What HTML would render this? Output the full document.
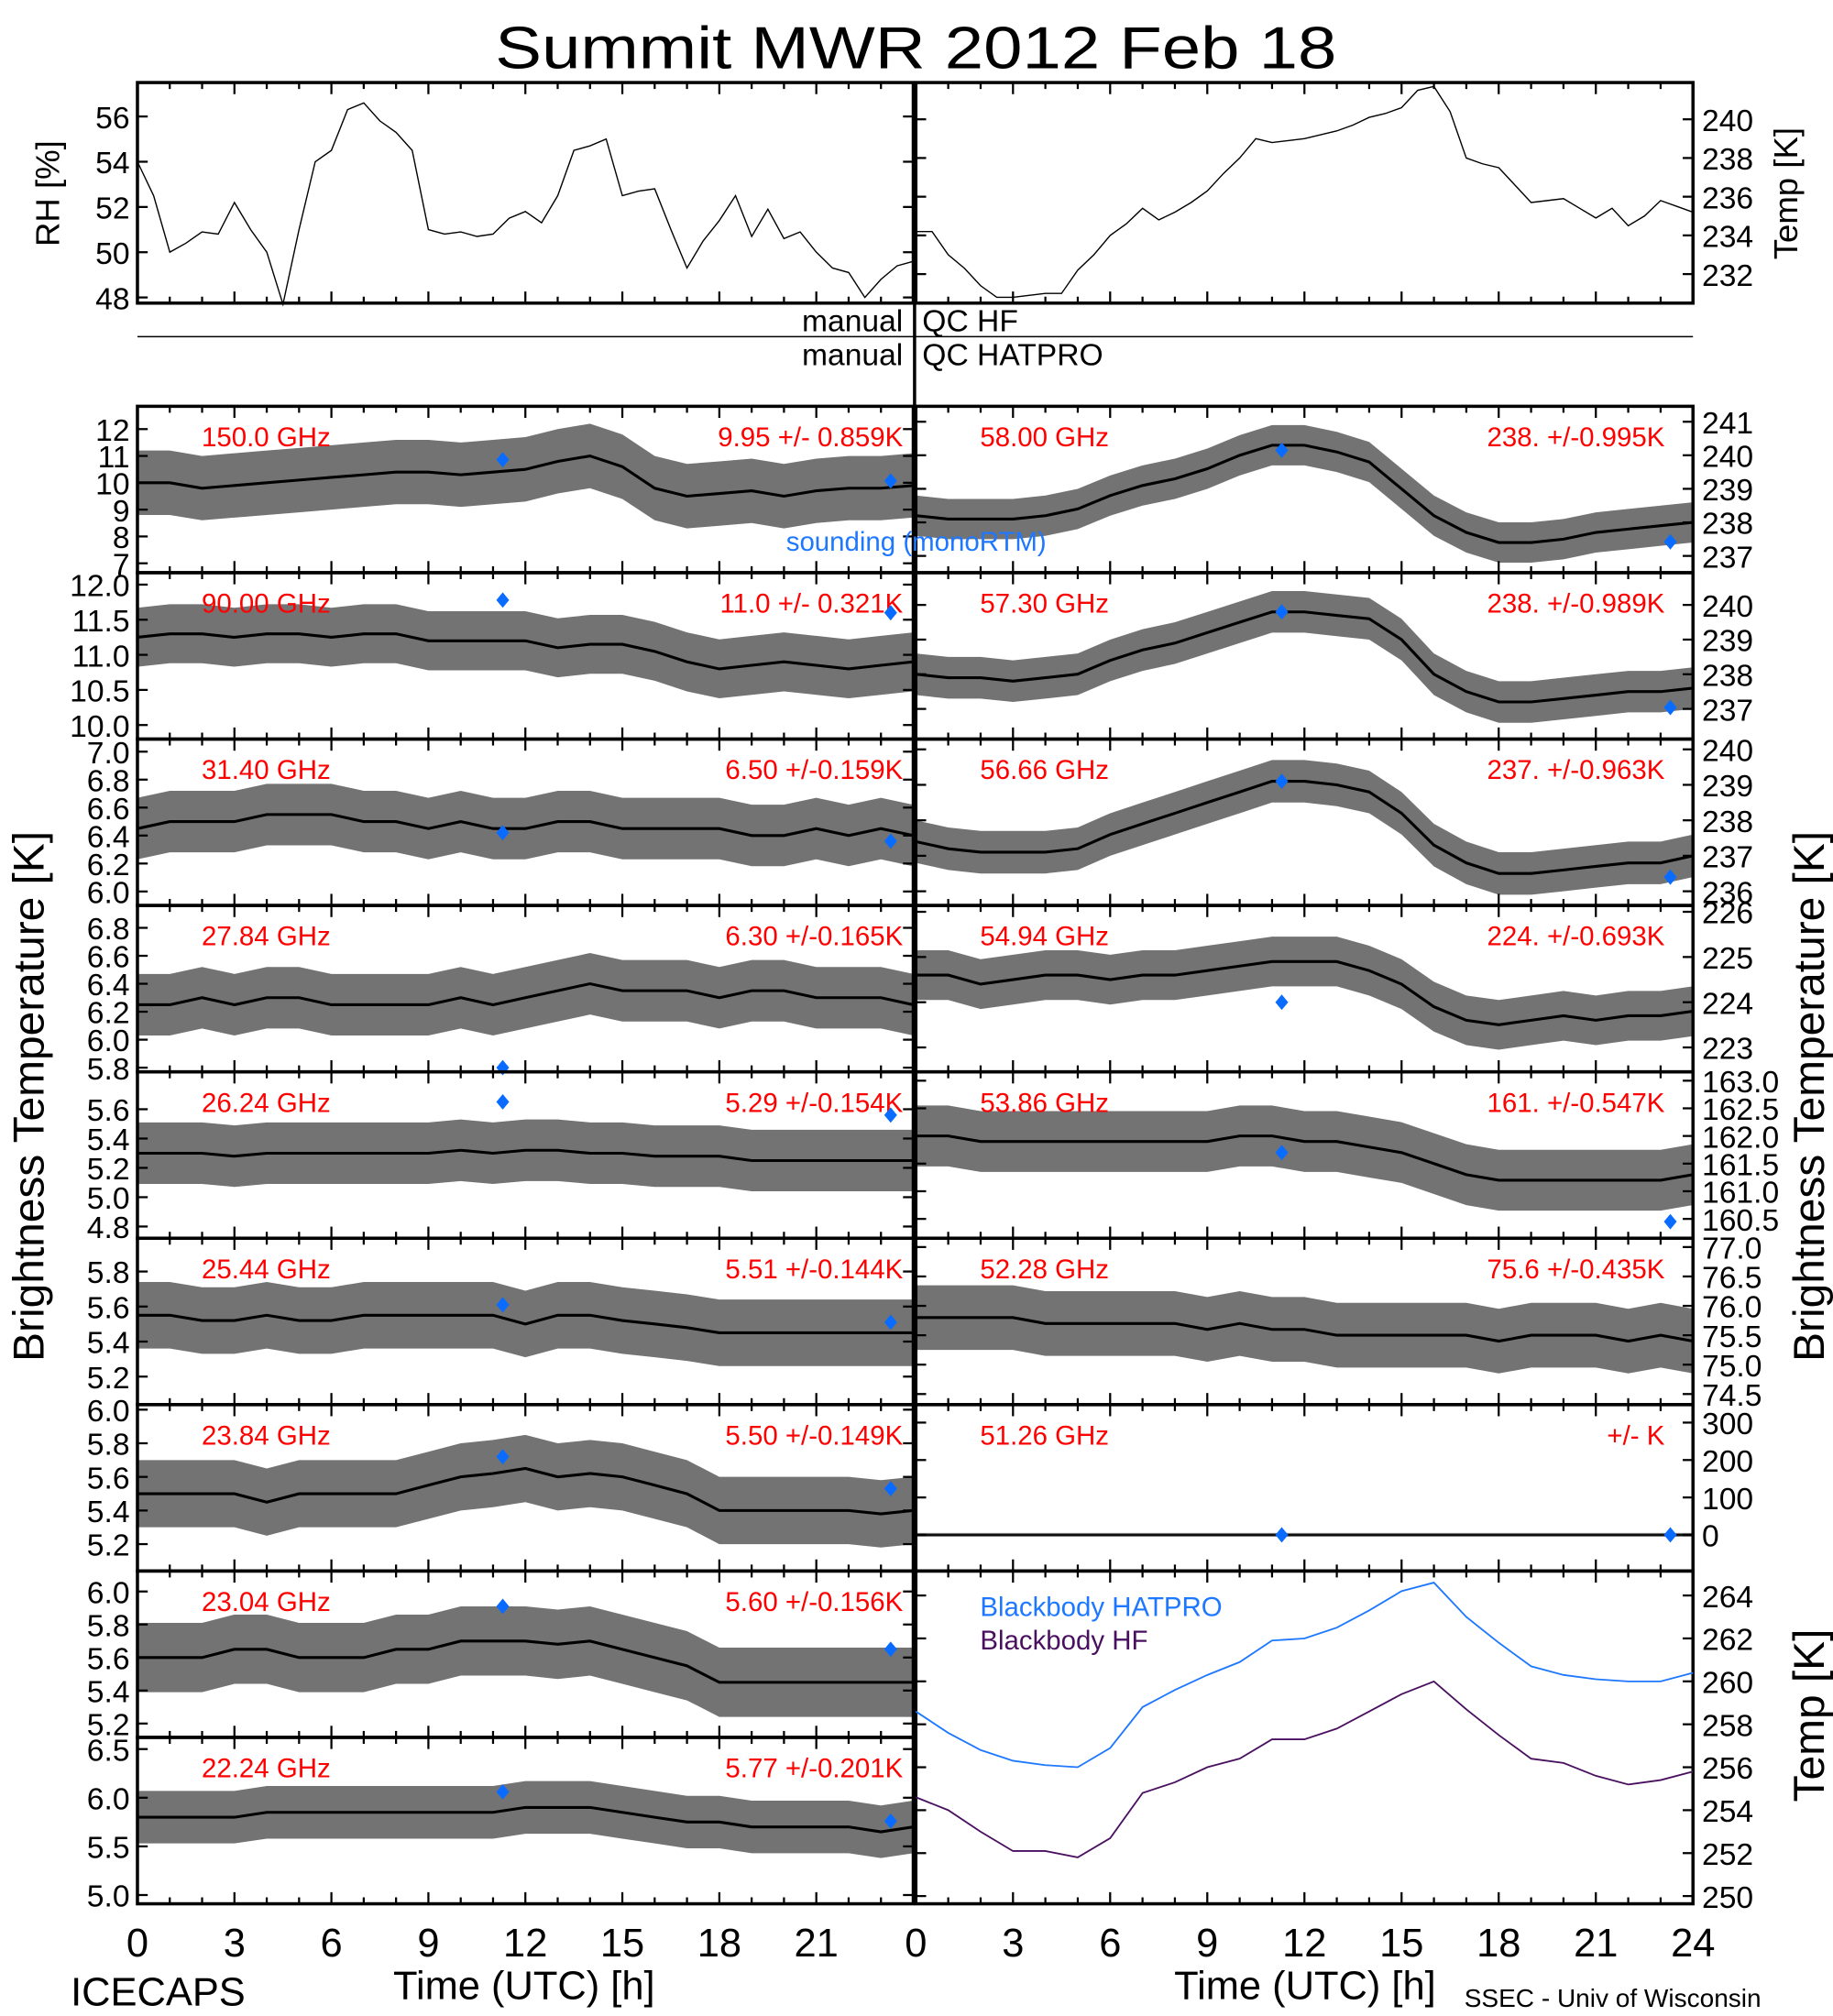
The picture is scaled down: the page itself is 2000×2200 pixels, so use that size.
<!DOCTYPE html>
<html><head><meta charset="utf-8"><title>Summit MWR 2012 Feb 18</title>
<style>
html,body{margin:0;padding:0;background:#fff;}
svg{display:block;}
text{font-family:"Liberation Sans",sans-serif;}
</style></head>
<body>
<svg id="chart" xmlns="http://www.w3.org/2000/svg" width="2000" height="2200" viewBox="0 0 1427 1563" preserveAspectRatio="none">
<rect x="0" y="0" width="1427" height="1563" fill="#fff"/>
<text x="713" y="53" font-size="46" text-anchor="middle" textLength="655" lengthAdjust="spacingAndGlyphs">Summit MWR 2012 Feb 18</text>
<g id="plots"></g>
</svg>
<script>
// ---------- data ----------
const hours = [0,1,2,3,4,5,6,7,8,9,10,11,12,13,14,15,16,17,18,19,20,21,22,23,24];
const halfHours = [0,0.5,1,1.5,2,2.5,3,3.5,4,4.5,5,5.5,6,6.5,7,7.5,8,8.5,9,9.5,10,10.5,11,11.5,12,12.5,13,13.5,14,14.5,15,15.5,16,16.5,17,17.5,18,18.5,19,19.5,20,20.5,21,21.5,22,22.5,23,23.5,24];
const rhValues = [54,52.5,50,50.4,50.9,50.8,52.2,51,50,47.7,51,54,54.5,56.3,56.6,55.8,55.3,54.5,51,50.8,50.9,50.7,50.8,51.5,51.8,51.3,52.5,54.5,54.7,55,52.5,52.7,52.8,51,49.3,50.5,51.4,52.5,50.7,51.9,50.6,50.9,50,49.3,49.1,48,48.8,49.4,49.6];
const tempValues = [234.2,234.2,233,232.3,231.4,230.8,230.8,230.9,231,231,232.2,233,234,234.6,235.4,234.8,235.2,235.7,236.3,237.2,238,239,238.8,238.9,239,239.2,239.4,239.7,240.1,240.3,240.6,241.5,241.7,240.4,238,237.7,237.5,236.6,235.7,235.8,235.9,235.4,234.9,235.4,234.5,235,235.8,235.5,235.2];
const bbHatpro = [258.6,257.6,256.8,256.3,256.1,256.0,256.9,258.8,259.6,260.3,260.9,261.9,262,262.5,263.3,264.2,264.6,263,261.8,260.7,260.3,260.1,260,260,260.4];
const bbHF = [254.6,254,253,252.1,252.1,251.8,252.7,254.8,255.3,256,256.4,257.3,257.3,257.8,258.6,259.4,260,258.7,257.5,256.4,256.2,255.6,255.2,255.4,255.8];
const ch150 = [10,10,9.8,9.9,10,10.1,10.2,10.3,10.4,10.4,10.3,10.4,10.5,10.8,11,10.6,9.8,9.5,9.6,9.7,9.5,9.7,9.8,9.8,9.9];
const ch90 = [11.25,11.3,11.3,11.25,11.3,11.3,11.25,11.3,11.3,11.2,11.2,11.2,11.2,11.1,11.15,11.15,11.05,10.9,10.8,10.85,10.9,10.85,10.8,10.85,10.9];
const ch3140 = [6.45,6.5,6.5,6.5,6.55,6.55,6.55,6.5,6.5,6.45,6.5,6.45,6.45,6.5,6.5,6.45,6.45,6.45,6.45,6.4,6.4,6.45,6.4,6.45,6.4];
const ch2784 = [6.25,6.25,6.3,6.25,6.3,6.3,6.25,6.25,6.25,6.25,6.3,6.25,6.3,6.35,6.4,6.35,6.35,6.35,6.3,6.35,6.35,6.3,6.3,6.3,6.25];
const ch2624 = [5.3,5.3,5.3,5.28,5.3,5.3,5.3,5.3,5.3,5.3,5.32,5.3,5.32,5.32,5.3,5.3,5.28,5.28,5.28,5.25,5.25,5.25,5.25,5.25,5.25];
const ch2544 = [5.55,5.55,5.52,5.52,5.55,5.52,5.52,5.55,5.55,5.55,5.55,5.55,5.5,5.55,5.55,5.52,5.5,5.48,5.45,5.45,5.45,5.45,5.45,5.45,5.45];
const ch2384 = [5.5,5.5,5.5,5.5,5.45,5.5,5.5,5.5,5.5,5.55,5.6,5.62,5.65,5.6,5.62,5.6,5.55,5.5,5.4,5.4,5.4,5.4,5.4,5.38,5.4];
const ch2304 = [5.6,5.6,5.6,5.65,5.65,5.6,5.6,5.6,5.65,5.65,5.7,5.7,5.7,5.68,5.7,5.65,5.6,5.55,5.45,5.45,5.45,5.45,5.45,5.45,5.45];
const ch2224 = [5.8,5.8,5.8,5.8,5.85,5.85,5.85,5.85,5.85,5.85,5.85,5.85,5.9,5.9,5.9,5.85,5.8,5.75,5.75,5.7,5.7,5.7,5.7,5.65,5.7];
const ch5800 = [238.2,238.1,238.1,238.1,238.2,238.4,238.8,239.1,239.3,239.6,240,240.3,240.3,240.1,239.8,239,238.2,237.7,237.4,237.4,237.5,237.7,237.8,237.9,238];
const ch5730 = [238,237.9,237.9,237.8,237.9,238,238.4,238.7,238.9,239.2,239.5,239.8,239.8,239.7,239.6,239,238,237.5,237.2,237.2,237.3,237.4,237.5,237.5,237.6];
const ch5666 = [237.4,237.2,237.1,237.1,237.1,237.2,237.6,237.9,238.2,238.5,238.8,239.1,239.1,239,238.8,238.2,237.3,236.8,236.5,236.5,236.6,236.7,236.8,236.8,237];
const ch5494 = [224.6,224.6,224.4,224.5,224.6,224.6,224.5,224.6,224.6,224.7,224.8,224.9,224.9,224.9,224.7,224.4,223.9,223.6,223.5,223.6,223.7,223.6,223.7,223.7,223.8];
const ch5386 = [162.0,162.0,161.9,161.9,161.9,161.9,161.9,161.9,161.9,161.9,162.0,162.0,161.9,161.9,161.8,161.7,161.5,161.3,161.2,161.2,161.2,161.2,161.2,161.2,161.3];
const ch5228 = [75.8,75.8,75.8,75.8,75.7,75.7,75.7,75.7,75.7,75.6,75.7,75.6,75.6,75.5,75.5,75.5,75.5,75.5,75.4,75.5,75.5,75.5,75.4,75.5,75.4];
const ch5126 = [0,0,0,0,0,0,0,0,0,0,0,0,0,0,0,0,0,0,0,0,0,0,0,0,0];
const soundTimes = [11.3, 23.3];

// ---------- layout ----------
const SVGNS = "http://www.w3.org/2000/svg";
const root = document.getElementById('plots');
const LX0 = 107, LX1 = 711, RX0 = 713, RX1 = 1318;
function mk(tag, attrs, parent) {
  const e = document.createElementNS(SVGNS, tag);
  for (const k in attrs) e.setAttribute(k, attrs[k]);
  (parent || root).appendChild(e);
  return e;
}
function xScale(h, x0, x1) { return x0 + (x1 - x0) * h / 24; }
function yScale(v, y0, y1, lo, hi) { return y1 - (v - lo) / (hi - lo) * (y1 - y0); }

function drawFrame(x0, x1, y0, y1, name) {
  const g = mk('g', {});
  
  
  mk('rect', {x: x0, y: y0, width: x1 - x0, height: y1 - y0, fill: 'none', stroke: '#000', 'stroke-width': 2.5}, g);
  for (let h = 0; h <= 24; h++) {
    const x = xScale(h, x0, x1);
    const L = (h % 3 === 0) ? 9 : 5;
    mk('line', {x1: x, x2: x, y1: y0, y2: y0 + L, stroke: '#000', 'stroke-width': 1.6}, g);
    mk('line', {x1: x, x2: x, y1: y1, y2: y1 - L, stroke: '#000', 'stroke-width': 1.6}, g);
  }
  return g;
}
function drawYTicks(g, x0, x1, y0, y1, lo, hi, ticks, side, fmt) {
  ticks.forEach(t => {
    const y = yScale(t, y0, y1, lo, hi);
    mk('line', {x1: x0, x2: x0 + 8, y1: y, y2: y, stroke: '#000', 'stroke-width': 1.6}, g);
    mk('line', {x1: x1, x2: x1 - 8, y1: y, y2: y, stroke: '#000', 'stroke-width': 1.6}, g);
    const tx = side === 'left' ? x0 - 6 : x1 + 7;
    const lbl = mk('text', {x: tx, y: y + 9, 'font-size': 24, 'text-anchor': side === 'left' ? 'end' : 'start'}, g);
    lbl.textContent = fmt(t);
  });
}
function linePath(xs, vals, x0, x1, y0, y1, lo, hi) {
  return xs.map((h, i) => (i ? 'L' : 'M') + xScale(h, x0, x1).toFixed(1) + ',' + yScale(vals[i], y0, y1, lo, hi).toFixed(1)).join('');
}

// top panels
{
  const g = drawFrame(LX0, LX1, 64, 235, 'rh-panel');
  const lo = 47.75, hi = 57.5;
  drawYTicks(g, LX0, LX1, 64, 235, lo, hi, [48,50,52,54,56], 'left', t => String(t));
  const p = mk('path', {d: linePath(halfHours, rhValues, LX0, LX1, 64, 235, lo, hi), fill: 'none', stroke: '#000', 'stroke-width': 1});
  
  
  const t = mk('text', {x: 0, y: 0, 'font-size': 26, 'text-anchor': 'middle', transform: 'translate(46,150) rotate(-90)'});
  
  
  t.textContent = 'RH [%]';
}
{
  const g = drawFrame(RX0, RX1, 64, 235, 'temp-panel');
  const lo = 230.5, hi = 241.9;
  drawYTicks(g, RX0, RX1, 64, 235, lo, hi, [232,234,236,238,240], 'right', t => String(t));
  const cp = mk('clipPath', {id: 'cliptemp'});
  mk('rect', {x: RX0, y: 64, width: RX1 - RX0, height: 171}, cp);
  const p = mk('path', {d: linePath(halfHours, tempValues, RX0, RX1, 64, 235, lo, hi), fill: 'none', stroke: '#000', 'stroke-width': 1, 'clip-path': 'url(#cliptemp)'});
  
  
  const t = mk('text', {x: 0, y: 0, 'font-size': 26, 'text-anchor': 'middle', transform: 'translate(1399,150) rotate(-90)'});
  
  
  t.textContent = 'Temp [K]';
}
// QC rows
{
  const labels = [['manual', 'QC HF', 257], ['manual', 'QC HATPRO', 283]];
  labels.forEach(l => {
    const a = mk('text', {x: 703, y: l[2], 'font-size': 24, 'text-anchor': 'end'});
    
    
    a.textContent = l[0];
    const b = mk('text', {x: 718, y: l[2], 'font-size': 24});
    
    
    b.textContent = l[1];
  });
  const ln = mk('line', {x1: LX0, x2: RX1, y1: 261, y2: 261, stroke: '#000', 'stroke-width': 1});
  
  
  const vl = mk('line', {x1: 712, x2: 712, y1: 64, y2: 1476, stroke: '#000', 'stroke-width': 2.5});
  
  
}

// channel panels
const rows = [315, 444, 573, 702, 831, 960, 1089, 1218, 1347, 1476];
const leftPanels = [
  {freq: '150.0 GHz', stat: '9.95 +/- 0.859K', vals: ch150, lo: 6.65, hi: 12.85, ticks: [7,8,9,10,11,12], d: 0, spread: 1.2, snd: [10.86, 10.07]},
  {freq: '90.00 GHz', stat: '11.0 +/- 0.321K', vals: ch90, lo: 9.8, hi: 12.17, ticks: [10,10.5,11,11.5,12], d: 1, spread: 0.42, snd: [11.78, 11.6]},
  {freq: '31.40 GHz', stat: '6.50 +/-0.159K', vals: ch3140, lo: 5.9, hi: 7.09, ticks: [6,6.2,6.4,6.6,6.8,7], d: 1, spread: 0.22, snd: [6.42, 6.36]},
  {freq: '27.84 GHz', stat: '6.30 +/-0.165K', vals: ch2784, lo: 5.77, hi: 6.96, ticks: [5.8,6,6.2,6.4,6.6,6.8], d: 1, spread: 0.22, snd: [5.8, null]},
  {freq: '26.24 GHz', stat: '5.29 +/-0.154K', vals: ch2624, lo: 4.72, hi: 5.855, ticks: [4.8,5,5.2,5.4,5.6], d: 1, spread: 0.21, snd: [5.65, 5.56]},
  {freq: '25.44 GHz', stat: '5.51 +/-0.144K', vals: ch2544, lo: 5.04, hi: 5.99, ticks: [5.2,5.4,5.6,5.8], d: 1, spread: 0.19, snd: [5.61, 5.51]},
  {freq: '23.84 GHz', stat: '5.50 +/-0.149K', vals: ch2384, lo: 5.04, hi: 6.03, ticks: [5.2,5.4,5.6,5.8,6], d: 1, spread: 0.2, snd: [5.72, 5.53]},
  {freq: '23.04 GHz', stat: '5.60 +/-0.156K', vals: ch2304, lo: 5.116, hi: 6.124, ticks: [5.2,5.4,5.6,5.8,6], d: 1, spread: 0.21, snd: [5.91, 5.65]},
  {freq: '22.24 GHz', stat: '5.77 +/-0.201K', vals: ch2224, lo: 4.91, hi: 6.62, ticks: [5,5.5,6,6.5], d: 1, spread: 0.27, snd: [6.06, 5.76]}
];
const rightPanels = [
  {freq: '58.00 GHz', stat: '238. +/-0.995K', vals: ch5800, lo: 236.5, hi: 241.46, ticks: [237,238,239,240,241], d: 0, spread: 0.6, snd: [240.15, 237.42]},
  {freq: '57.30 GHz', stat: '238. +/-0.989K', vals: ch5730, lo: 236.13, hi: 240.93, ticks: [237,238,239,240], d: 0, spread: 0.6, snd: [239.8, 237.04]},
  {freq: '56.66 GHz', stat: '237. +/-0.963K', vals: ch5666, lo: 235.6, hi: 240.29, ticks: [236,237,238,239,240], d: 0, spread: 0.6, snd: [239.1, 236.4]},
  {freq: '54.94 GHz', stat: '224. +/-0.693K', vals: ch5494, lo: 222.46, hi: 226.14, ticks: [223,224,225,226], d: 0, spread: 0.55, snd: [224.0, null]},
  {freq: '53.86 GHz', stat: '161. +/-0.547K', vals: ch5386, lo: 160.15, hi: 163.16, ticks: [160.5,161,161.5,162,162.5,163], d: 1, spread: 0.55, snd: [161.7, 160.45]},
  {freq: '52.28 GHz', stat: '75.6 +/-0.435K', vals: ch5228, lo: 74.32, hi: 77.15, ticks: [74.5,75,75.5,76,76.5,77], d: 1, spread: 0.55, snd: [null, null]},
  {freq: '51.26 GHz', stat: '+/-        K', vals: ch5126, lo: -96.5, hi: 348, ticks: [0,100,200,300], d: 0, spread: 5, snd: [0, 0]}
];
function drawChannel(p, i, x0, x1, side) {
  const y0 = rows[i], y1 = rows[i + 1];
  const name = side + '-channel-' + p.freq.replace(/[^0-9]/g, '');
  const g = drawFrame(x0, x1, y0, y1, name);
  drawYTicks(g, x0, x1, y0, y1, p.lo, p.hi, p.ticks, side, t => t.toFixed(p.d));
  const cid = 'clip-' + name;
  const cp = mk('clipPath', {id: cid});
  mk('rect', {x: x0 + 1, y: y0 + 1, width: x1 - x0 - 2, height: y1 - y0 - 2}, cp);
  const up = hours.map((h, k) => xScale(h, x0, x1).toFixed(1) + ',' + yScale(p.vals[k] + p.spread, y0, y1, p.lo, p.hi).toFixed(1));
  const dn = hours.slice().reverse().map((h, k) => { const idx = hours.length - 1 - k; return xScale(h, x0, x1).toFixed(1) + ',' + yScale(p.vals[idx] - p.spread, y0, y1, p.lo, p.hi).toFixed(1); });
  const band = mk('polygon', {points: up.concat(dn).join(' '), fill: '#000', 'fill-opacity': 0.55, 'clip-path': 'url(#' + cid + ')'});
  
  
  const ln = mk('path', {d: linePath(hours, p.vals, x0, x1, y0, y1, p.lo, p.hi), fill: 'none', stroke: '#000', 'stroke-width': (p.spread === 5 ? 1.2 : 2.2), 'clip-path': 'url(#' + cid + ')'});
  
  
  const f = mk('text', {x: x0 + 50, y: y0 + 31, 'font-size': 21, fill: '#ff0000'});
  
  
  f.textContent = p.freq;
  const s = mk('text', {x: x1 - (side === 'left' ? 8 : 22), y: y0 + 31, 'font-size': 21, fill: '#ff0000', 'text-anchor': 'end'});
  
  
  s.textContent = p.stat;
  p.snd.forEach((v, k) => {
    if (v === null) return;
    const cx = xScale(soundTimes[k], x0, x1), cy = yScale(v, y0, y1, p.lo, p.hi);
    const dmd = mk('polygon', {points: `${cx},${cy - 6} ${cx + 5},${cy} ${cx},${cy + 6} ${cx - 5},${cy}`, fill: '#0a6cff'});
    
    
  });
}
leftPanels.forEach((p, i) => drawChannel(p, i, LX0, LX1, 'left'));
rightPanels.forEach((p, i) => drawChannel(p, i, RX0, RX1, 'right'));
{
  const t = mk('text', {x: 612, y: 427, 'font-size': 21, fill: '#1e78ff'});
  
  
  t.textContent = 'sounding (monoRTM)';
}
// blackbody panel
{
  const y0 = 1218, y1 = 1476, lo = 249.64, hi = 265.14;
  const g = drawFrame(RX0, RX1, y0, y1, 'blackbody-panel');
  drawYTicks(g, RX0, RX1, y0, y1, lo, hi, [250,252,254,256,258,260,262,264], 'right', t => String(t));
  const a = mk('path', {d: linePath(hours, bbHatpro, RX0, RX1, y0, y1, lo, hi), fill: 'none', stroke: '#1e78ff', 'stroke-width': 1.3});
  
  
  const b = mk('path', {d: linePath(hours, bbHF, RX0, RX1, y0, y1, lo, hi), fill: 'none', stroke: '#4a1060', 'stroke-width': 1.3});
  
  
  const l1 = mk('text', {x: 763, y: 1253, 'font-size': 21, fill: '#1e78ff'});
  
  
  l1.textContent = 'Blackbody HATPRO';
  const l2 = mk('text', {x: 763, y: 1279, 'font-size': 21, fill: '#4a1060'});
  
  
  l2.textContent = 'Blackbody HF';
  const t = mk('text', {x: 0, y: 0, 'font-size': 34, 'text-anchor': 'middle', transform: 'translate(1420,1330) rotate(-90)'});
  
  
  t.textContent = 'Temp [K]';
}
// x tick labels
const xTickLabels = [0,3,6,9,12,15,18,21,24];
[[LX0, LX1, 'left'], [RX0, RX1, 'right']].forEach(([x0, x1, side]) => {
  xTickLabels.forEach(h => {
    if (side === 'left' && h === 24) return;
    const t = mk('text', {x: xScale(h, x0, x1), y: 1517, 'font-size': 31, 'text-anchor': 'middle'});
    
    
    t.textContent = String(h);
  });
  const xt = mk('text', {x: (side === 'left' ? 408 : 1016), y: 1550, 'font-size': 31, 'text-anchor': 'middle'});
  
  
  xt.textContent = 'Time (UTC) [h]';
});
{
  const a = mk('text', {x: 55, y: 1555, 'font-size': 31});
  
  
  a.textContent = 'ICECAPS';
  const b = mk('text', {x: 1140, y: 1556, 'font-size': 20});
  
  
  b.textContent = 'SSEC - Univ of Wisconsin';
  const l = mk('text', {x: 0, y: 0, 'font-size': 34, 'text-anchor': 'middle', transform: 'translate(34,850) rotate(-90)'});
  
  
  l.textContent = 'Brightness Temperature [K]';
  const r = mk('text', {x: 0, y: 0, 'font-size': 34, 'text-anchor': 'middle', transform: 'translate(1420,850) rotate(-90)'});
  
  
  r.textContent = 'Brightness Temperature [K]';
}
</script>
</body></html>
